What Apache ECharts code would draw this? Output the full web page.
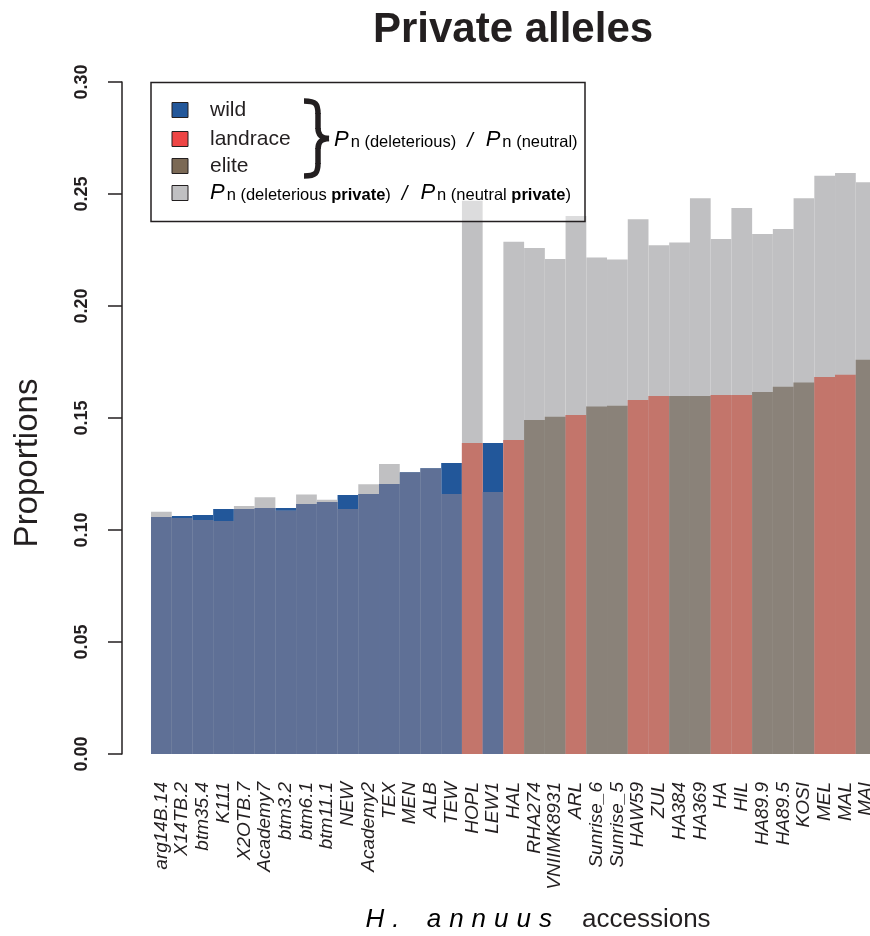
<!DOCTYPE html>
<html>
<head>
<meta charset="utf-8">
<script src="https://cdn.jsdelivr.net/npm/echarts@6/dist/echarts.min.js"></script>
<style>
  html, body { margin: 0; padding: 0; background: #ffffff; overflow: hidden; width: 870px; height: 936px; }
  /* the plot runs slightly past the right edge of the page, so the canvas is a little wider */
  #chart { width: 890px; height: 936px; }
</style>
</head>
<body>
<div id="chart"></div>
<script>
// Accessions, ordered by Pn(deleterious)/Pn(neutral)
const accessions = ['arg14B.14', 'X14TB.2', 'btm35.4', 'K111', 'X2OTB.7', 'Academy7', 'btm3.2', 'btm6.1',
  'btm11.1', 'NEW', 'Academy2', 'TEX', 'MEN', 'ALB', 'TEW', 'HOPL', 'LEW1', 'HAL', 'RHA274', 'VNIIMK8931',
  'ARL', 'Sunrise_6', 'Sunrise_5', 'HAW59', 'ZUL', 'HA384', 'HA369', 'HA', 'HIL', 'HA89.9', 'HA89.5',
  'KOSI', 'MEL', 'MAL', 'MAI'];

const groups = ['wild', 'wild', 'wild', 'wild', 'wild', 'wild', 'wild', 'wild', 'wild', 'wild', 'wild',
  'wild', 'wild', 'wild', 'wild', 'landrace', 'wild', 'landrace', 'elite', 'elite', 'landrace', 'elite',
  'elite', 'landrace', 'landrace', 'elite', 'elite', 'landrace', 'landrace', 'elite', 'elite', 'elite',
  'landrace', 'landrace', 'elite'];

// Pn(deleterious) / Pn(neutral)
const allRatio = [0.1058, 0.1062, 0.1067, 0.1094, 0.1094, 0.1098, 0.1098, 0.1116, 0.1125, 0.1156, 0.1161,
  0.1205, 0.1259, 0.1277, 0.1299, 0.1388, 0.1388, 0.1402, 0.1491, 0.1506, 0.1513, 0.1551, 0.1555, 0.1580,
  0.1598, 0.1598, 0.1598, 0.1603, 0.1603, 0.1616, 0.1640, 0.1658, 0.1683, 0.1693, 0.1760];

// Pn(deleterious private) / Pn(neutral private)
const privateRatio = [0.1082, 0.1054, 0.1045, 0.1040, 0.1107, 0.1146, 0.1086, 0.1159, 0.1135, 0.1094,
  0.1204, 0.1295, 0.1257, 0.1275, 0.1161, 0.2470, 0.1170, 0.2287, 0.2259, 0.2210, 0.2402, 0.2217, 0.2208,
  0.2387, 0.2271, 0.2284, 0.2481, 0.2299, 0.2438, 0.2321, 0.2344, 0.2481, 0.2582, 0.2594, 0.2552];

const yTicks = [0, 0.05, 0.10, 0.15, 0.20, 0.25, 0.30];

// colours: solid group colour, group colour seen through the grey bar, and the grey bar
const solidColor = { wild: '#22579a', landrace: '#ee4545', elite: '#7b6955' };
const mixedColor = { wild: '#5f7096', landrace: '#c3756b', elite: '#8a8279' };
const greyColor = '#c0c0c2';
const ink = '#231f20';
const FONT = 'Liberation Sans, Arial, Helvetica, sans-serif';

const chart = echarts.init(document.getElementById('chart'), null, { renderer: 'canvas' });

const barBase = { type: 'bar', barWidth: '100%', barGap: '-100%', barCategoryGap: 0, animation: false, silent: true };

const solidData = allRatio.map((v, i) => ({ value: v, itemStyle: { color: solidColor[groups[i]] } }));
const greyData = privateRatio.map(v => ({ value: v, itemStyle: { color: greyColor } }));
const mixedData = allRatio.map((v, i) => ({
  value: Math.min(v, privateRatio[i]),
  itemStyle: { color: mixedColor[groups[i]] }
}));

// legend text pieces
const subStyle = { fontFamily: FONT, fontSize: 16.5, color: ink, verticalAlign: 'bottom', lineHeight: 22 };
const legendRich = {
  P: { fontFamily: FONT, fontSize: 22, fontStyle: 'italic', color: ink, verticalAlign: 'bottom', lineHeight: 26, padding: [0, 2, 0, 0] },
  n: Object.assign({}, subStyle),
  s: Object.assign({}, subStyle),
  b: Object.assign({}, subStyle, { fontWeight: 'bold' }),
  sl: { fontFamily: FONT, fontSize: 20, fontStyle: 'italic', color: ink, verticalAlign: 'bottom', lineHeight: 25, padding: [0, 13, 0, 11] }
};

const legendRows = [
  { label: 'wild', color: solidColor.wild, y: 110 },
  { label: 'landrace', color: solidColor.landrace, y: 139 },
  { label: 'elite', color: solidColor.elite, y: 166 }
];

const legendElements = [
  {
    type: 'rect', shape: { x: 151, y: 82.5, width: 434, height: 139 },
    style: { fill: 'rgba(255,255,255,0.45)', stroke: ink, lineWidth: 1.5 }, z: 100
  }
];
legendRows.forEach(r => {
  legendElements.push({
    type: 'rect', shape: { x: 172, y: r.y - 7.5, width: 16, height: 15 },
    style: { fill: r.color, stroke: ink, lineWidth: 1 }, z: 101
  });
  legendElements.push({
    type: 'text', x: 210, y: r.y,
    style: { text: r.label, font: '21px ' + FONT, fill: ink, verticalAlign: 'middle' }, z: 101
  });
});
legendElements.push({
  type: 'rect', shape: { x: 172, y: 185.5, width: 16, height: 15 },
  style: { fill: greyColor, stroke: ink, lineWidth: 1 }, z: 101
});

// curly brace grouping the three group colours, built from curves and straight strokes
const braceStroke = { stroke: ink, lineWidth: 5.5, fill: null };
[
  { x1: 304, y1: 101, cpx1: 316, cpy1: 101, cpx2: 318, cpy2: 104, x2: 318, y2: 114 },
  { x1: 318, y1: 128, cpx1: 318, cpy1: 135, cpx2: 321, cpy2: 138, x2: 329, y2: 138.5 },
  { x1: 329, y1: 138.5, cpx1: 321, cpy1: 139, cpx2: 318, cpy2: 142, x2: 318, y2: 149 },
  { x1: 318, y1: 163, cpx1: 318, cpy1: 173, cpx2: 316, cpy2: 176, x2: 304, y2: 176 }
].forEach(c => legendElements.push({ type: 'bezierCurve', shape: c, style: braceStroke, z: 101 }));
[
  { x1: 318, y1: 113, x2: 318, y2: 129 },
  { x1: 318, y1: 148, x2: 318, y2: 164 }
].forEach(l => legendElements.push({ type: 'line', shape: l, style: braceStroke, z: 101 }));

legendElements.push({
  type: 'text', x: 334, y: 151, z: 101,
  style: {
    text: '{P|P}{n|n (deleterious)}{sl|/}{P|P}{n|n (neutral)}',
    rich: legendRich, verticalAlign: 'bottom'
  }
});
legendElements.push({
  type: 'text', x: 210, y: 204, z: 101,
  style: {
    text: '{P|P}{n|n (deleterious }{b|private}{s|)}{sl|/}{P|P}{n|n (neutral }{b|private}{s|)}',
    rich: legendRich, verticalAlign: 'bottom'
  }
});

// "H. annuus" is spaced out letter by letter
const speciesName = 'H. annuus';
let speciesText = '';
for (const ch of speciesName) {
  speciesText += ch === ' ' ? '{sp| }' : '{it|' + ch + '}';
}

const option = {
  animation: false,
  grid: { left: 151, top: 82, width: 725.5, bottom: 182, containLabel: false },
  xAxis: {
    type: 'category',
    data: accessions,
    axisLine: { show: false },
    axisTick: { show: false },
    axisLabel: {
      interval: 0, rotate: 90, margin: 28,
      fontFamily: FONT, fontStyle: 'italic', fontSize: 19, color: ink
    }
  },
  yAxis: {
    type: 'value',
    min: yTicks[0], max: yTicks[yTicks.length - 1], interval: 0.05,
    offset: 29,
    axisLine: { show: true, lineStyle: { color: ink, width: 1.5 } },
    axisTick: { show: true, length: 14, lineStyle: { color: ink, width: 1.5 } },
    splitLine: { show: false },
    axisLabel: {
      rotate: 90, margin: 31,
      fontFamily: FONT, fontWeight: 'bold', fontSize: 18, color: ink,
      formatter: v => v.toFixed(2)
    }
  },
  series: [
    Object.assign({ name: 'group', data: solidData }, barBase),
    Object.assign({ name: 'private', data: greyData }, barBase),
    Object.assign({ name: 'group over private', data: mixedData }, barBase)
  ],
  graphic: [
    {
      type: 'text', x: 513, y: 30, z: 100,
      style: { text: 'Private alleles', font: 'bold 42px ' + FONT, fill: ink, align: 'center', verticalAlign: 'middle' }
    },
    {
      type: 'text', x: 28, y: 463, rotation: Math.PI / 2, z: 100,
      style: { text: 'Proportions', font: '33px ' + FONT, fill: ink, align: 'center', verticalAlign: 'middle' }
    },
    {
      type: 'text', x: 556, y: 920, z: 100,
      style: {
        text: speciesText, align: 'right', verticalAlign: 'middle',
        rich: {
          it: { fontFamily: FONT, fontSize: 26, fontStyle: 'italic', color: ink, padding: [0, 4, 0, 4] },
          sp: { fontFamily: FONT, fontSize: 26, color: ink, padding: [0, 6, 0, 6] }
        }
      }
    },
    {
      type: 'text', x: 582, y: 920, z: 100,
      style: { text: 'accessions', font: '26px ' + FONT, fill: ink, align: 'left', verticalAlign: 'middle' }
    }
  ].concat(legendElements)
};

chart.setOption(option);
</script>
</body>
</html>
